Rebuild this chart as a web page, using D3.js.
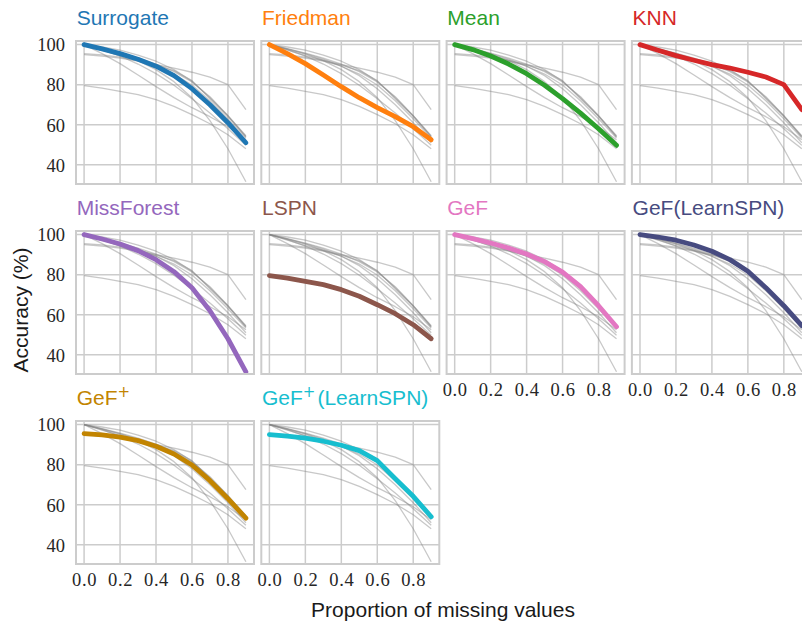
<!DOCTYPE html>
<html>
<head>
<meta charset="utf-8">
<script src="https://cdn.jsdelivr.net/npm/d3@7"></script>
<style>
  html, body { margin: 0; padding: 0; background: #fff; }
  svg { display: block; }
</style>
</head>
<body>
<svg id="chart" width="802" height="625"></svg>
<script>
// ---- data ----
const proportions = [0.0, 0.1, 0.2, 0.3, 0.4, 0.5, 0.6, 0.7, 0.8, 0.9];
const methods = ["Surrogate", "Friedman", "Mean", "KNN", "MissForest", "LSPN", "GeF", "GeF(LearnSPN)", "GeF+", "GeF+(LearnSPN)"];
const methodColors = ["#1f77b4", "#ff7f0e", "#2ca02c", "#d62728", "#9467bd", "#8c564b", "#e377c2", "#474b80", "#c28400", "#17becf"];
const surrogate   = [100, 97.9, 95.5, 92.7, 89.2, 84.5, 78.0, 70.0, 61.0, 51.0];
const friedman    = [100, 95.5, 90.5, 84.8, 79.0, 73.5, 68.5, 64.0, 59.0, 52.5];
const mean        = [100, 97.5, 94.3, 90.3, 85.5, 79.7, 73.0, 65.8, 58.0, 49.7];
const knn         = [100, 97.2, 94.5, 92.2, 90.0, 88.3, 86.2, 83.8, 80.0, 67.5];
const missForest  = [100, 97.8, 95.3, 92.0, 87.5, 81.5, 73.5, 62.0, 48.0, 31.5];
const lspn        = [79.5, 78.3, 76.7, 75.0, 72.5, 69.2, 65.0, 60.5, 55.0, 48.0];
const gef         = [100, 98.0, 95.8, 93.3, 90.3, 86.5, 81.3, 74.0, 64.5, 54.0];
const gefLearnSPN = [100, 98.8, 97.2, 94.8, 91.7, 87.5, 81.7, 73.5, 64.5, 54.5];
const gefPlus     = [95.5, 94.9, 93.8, 92.0, 89.2, 85.3, 79.8, 72.0, 63.0, 53.3];
const gefPlusLearnSPN = [95.0, 94.2, 93.3, 91.7, 89.7, 87.0, 82.0, 73.0, 64.2, 54.0];
const seriesValues = [surrogate, friedman, mean, knn, missForest, lspn, gef, gefLearnSPN, gefPlus, gefPlusLearnSPN];
const yTicks = [40, 60, 80, 100];
const xTicks = [0.0, 0.2, 0.4, 0.6, 0.8];

// ---- layout ----
const svg = d3.select("#chart");
const W = 178, H = 143;
const colLeft = i => 76 + i * 185.3;
const rowTop = j => 41 + j * 190;
const nCols = 4;
const gridColor = "#cccccc";

const x = d3.scaleLinear().domain([-0.045, 0.945]).range([0, W]);
const y = d3.scaleLinear().domain([30.4, 101.8]).range([H, 0]);
const line = d3.line().x((d, i) => x(proportions[i])).y(d => y(d));

const defs = svg.append("defs");

methods.forEach((name, k) => {
  const col = k % nCols, row = Math.floor(k / nCols);
  const g = svg.append("g").attr("transform", `translate(${colLeft(col)},${rowTop(row)})`);
  defs.append("clipPath").attr("id", "clip" + k)
    .append("rect").attr("x", 0).attr("y", 0).attr("width", W).attr("height", H);

  // grid
  const grid = g.append("g");
  grid.selectAll("line.gy").data(yTicks).join("line")
    .attr("x1", 0).attr("x2", W).attr("y1", d => y(d)).attr("y2", d => y(d))
    .attr("stroke", gridColor).attr("stroke-width", 1.5);
  grid.selectAll("line.gx").data(xTicks).join("line")
    .attr("y1", 0).attr("y2", H).attr("x1", d => x(d)).attr("x2", d => x(d))
    .attr("stroke", gridColor).attr("stroke-width", 1.5);

  // lines
  const lines = g.append("g").attr("clip-path", `url(#clip${k})`);
  seriesValues.forEach((vals, m) => {
    if (m === k) return;
    lines.append("path").attr("d", line(vals))
      .attr("fill", "none").attr("stroke", "#858585").attr("stroke-opacity", 0.45)
      .attr("stroke-width", 1.3).attr("stroke-linejoin", "round");
  });
  lines.append("path").attr("d", line(seriesValues[k]))
    .attr("fill", "none").attr("stroke", methodColors[k])
    .attr("stroke-width", 4.8).attr("stroke-linecap", "round").attr("stroke-linejoin", "round");

  // frame
  g.append("rect").attr("x", 0).attr("y", 0).attr("width", W).attr("height", H)
    .attr("fill", "none").attr("stroke", gridColor).attr("stroke-width", 2);

  // title
  const t = g.append("text").attr("x", 0.7).attr("y", -16)
    .attr("font-family", "'Liberation Sans', Arial, sans-serif")
    .attr("font-size", 21).attr("fill", methodColors[k]);
  if (name.startsWith("GeF+")) {
    t.append("tspan").text("GeF");
    t.append("tspan").text("+").attr("font-size", 15).attr("dy", -8)
      .attr("font-family", "'DejaVu Sans', sans-serif");
    const rest = name.slice(4);
    if (rest) t.append("tspan").text(rest).attr("dy", 8).attr("dx", 2);
  } else {
    t.text(name);
  }

  // y tick labels on first column
  if (col === 0) {
    const ya = d3.axisLeft(y).tickValues(yTicks).tickSize(0).tickPadding(11).tickFormat(d3.format("d"));
    const ag = g.append("g").call(ya);
    ag.select(".domain").remove();
    ag.selectAll("text").attr("font-family", "'Liberation Serif', 'Times New Roman', serif")
      .attr("font-size", 18.5).attr("fill", "#262626").attr("dy", "0.34em");
  }
  // x tick labels on bottom panel of each column
  const isBottom = (k + nCols >= methods.length);
  if (isBottom) {
    const xa = d3.axisBottom(x).tickValues(xTicks).tickSize(0).tickPadding(9).tickFormat(d3.format(".1f"));
    const ag = g.append("g").attr("transform", `translate(0,${H})`).call(xa);
    ag.select(".domain").remove();
    ag.selectAll("text").attr("font-family", "'Liberation Serif', 'Times New Roman', serif")
      .attr("font-size", 18.5).attr("fill", "#262626").attr("letter-spacing", 0.6);
  }
});

// axis titles
svg.append("text").attr("transform", "translate(28,310) rotate(-90)")
  .attr("text-anchor", "middle")
  .attr("font-family", "'Liberation Sans', Arial, sans-serif").attr("font-size", 21)
  .attr("fill", "#1a1a1a").text("Accuracy (%)");
svg.append("text").attr("x", 443).attr("y", 617).attr("text-anchor", "middle")
  .attr("font-family", "'Liberation Sans', Arial, sans-serif").attr("font-size", 21)
  .attr("fill", "#1a1a1a").text("Proportion of missing values");
</script>
</body>
</html>
